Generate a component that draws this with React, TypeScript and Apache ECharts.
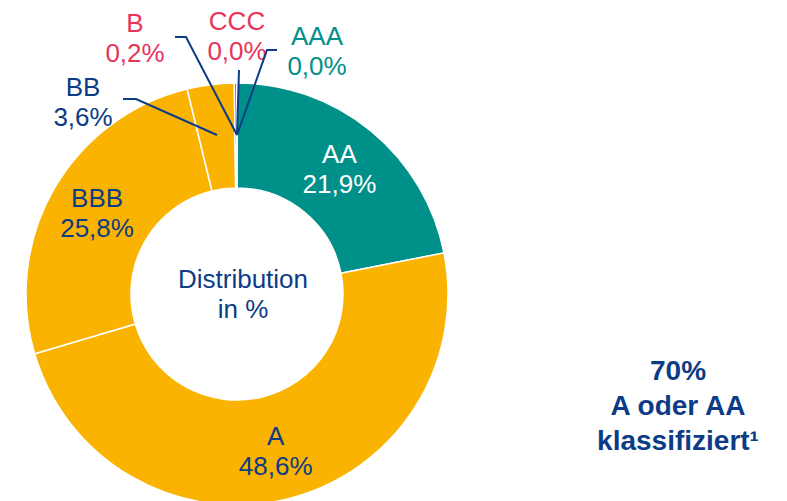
import React, { useEffect, useRef } from 'react';
import * as echarts from 'echarts';

// ---- data ----
const categories = ['AAA', 'AA', 'A', 'BBB', 'BB', 'B', 'CCC'];
const shares = [0.0, 21.9, 48.6, 25.8, 3.6, 0.2, 0.0];
const centerLines = ['Distribution', 'in %'];
const noteLines = ['70%', 'A oder AA', 'klassifiziert¹'];

// ---- styles ----
const TEAL = '#00908A';
const YELLOW = '#F9B300';
const BLUE = '#0D3C86';
const PINK = '#E8345A';
const FONT = '"Liberation Sans", Arial, Helvetica, sans-serif';

const sliceColors: Record<string, string> = {
  AAA: TEAL, AA: TEAL, A: YELLOW, BBB: YELLOW, BB: YELLOW, B: PINK, CCC: PINK,
};
const labelColors: Record<string, string> = {
  AAA: TEAL, AA: '#FFFFFF', A: BLUE, BBB: BLUE, BB: BLUE, B: PINK, CCC: PINK,
};
const insideLabels = ['AA', 'A', 'BBB'];

// positions of the external labels and their leader lines (pixels)
const outsideLayout: Record<string, { x: number; y: number; line: number[][] }> = {
  AAA: { x: 317, y: 51, line: [[277, 50], [267, 50], [237, 135]] },
  CCC: { x: 237, y: 36, line: [[239, 70], [237, 135]] },
  B: { x: 135, y: 38, line: [[175, 37], [186, 37], [237, 135]] },
  BB: { x: 83, y: 102, line: [[123, 99], [136, 99], [217, 135]] },
};

const fmt = (v: number) => v.toFixed(1).replace('.', ',') + '%';

export default function App() {
  const ref = useRef<HTMLDivElement>(null);

  useEffect(() => {
    if (!ref.current) return;
    const chart = echarts.init(ref.current, undefined, { renderer: 'svg' });

    const data = categories.map((name, i) => {
      const inside = insideLabels.includes(name);
      return {
        name,
        value: shares[i],
        itemStyle: { color: sliceColors[name] },
        label: {
          show: true,
          position: inside ? 'inside' : 'outside',
          color: labelColors[name],
        },
        labelLine: { show: false },
      };
    });

    const leaderLines = Object.keys(outsideLayout).map((k) => ({
      type: 'polyline',
      z: 100,
      silent: true,
      shape: { points: outsideLayout[k].line },
      style: { stroke: BLUE, lineWidth: 2, fill: null },
    }));

    chart.setOption({
      animation: false,
      backgroundColor: '#FFFFFF',
      series: [
        {
          type: 'pie',
          center: [237, 294],
          radius: [106, 211],
          startAngle: 90,
          clockwise: true,
          avoidLabelOverlap: false,
          minShowLabelAngle: 0,
          itemStyle: { borderColor: '#FFFFFF', borderWidth: 1.5 },
          label: {
            fontFamily: FONT,
            fontSize: 26,
            lineHeight: 30,
            align: 'center',
            formatter: (p: any) => `${p.name}\n${fmt(p.value)}`,
          },
          labelLayout: (params: any) => {
            const name = categories[params.dataIndex];
            const o = outsideLayout[name];
            if (!o) return {};
            return { x: o.x, y: o.y, align: 'center', verticalAlign: 'middle' };
          },
          emphasis: { disabled: true },
          data,
        },
      ],
      graphic: [
        ...leaderLines,
        {
          type: 'text',
          x: 243,
          y: 294,
          style: {
            text: centerLines.join('\n'),
            fill: BLUE,
            font: `26px ${FONT}`,
            lineHeight: 30,
            align: 'center',
            verticalAlign: 'middle',
          },
        },
        {
          type: 'text',
          x: 678,
          y: 405,
          style: {
            text: noteLines.join('\n'),
            fill: BLUE,
            font: `bold 28px ${FONT}`,
            lineHeight: 35,
            align: 'center',
            verticalAlign: 'middle',
          },
        },
      ],
    });

    return () => chart.dispose();
  }, []);

  return (
    <div
      ref={ref}
      style={{ position: 'absolute', left: 0, top: 0, width: 787, height: 501, background: '#fff' }}
    />
  );
}
